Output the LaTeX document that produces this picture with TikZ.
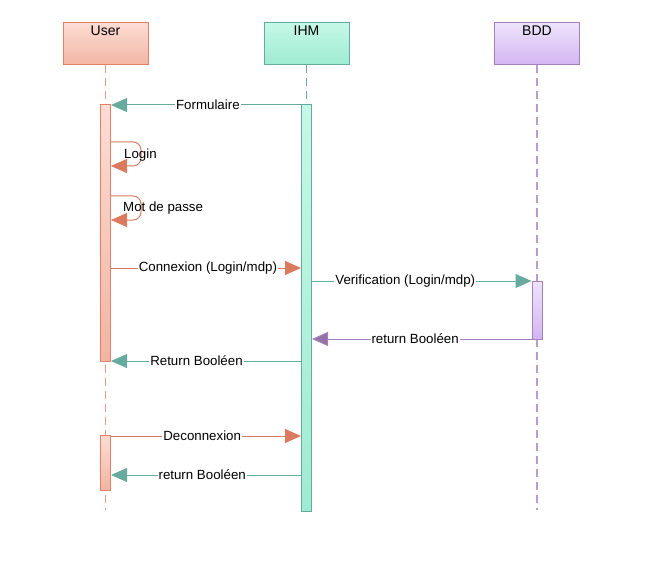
\documentclass[tikz,border=0pt]{standalone}
\usepackage{fontspec}
\setmainfont{Liberation Sans}
\usetikzlibrary{arrows.meta}
\definecolor{uB}{HTML}{E08066}
\definecolor{uT}{HTML}{FCDCD4}
\definecolor{uL}{HTML}{F2B5A3}
\definecolor{uA}{HTML}{DA7B5F}
\definecolor{uD}{HTML}{EA9A84}
\definecolor{iB}{HTML}{67AB9F}
\definecolor{iT}{HTML}{C5F8E7}
\definecolor{iL}{HTML}{9EEBD2}
\definecolor{pB}{HTML}{A680B8}
\definecolor{pT}{HTML}{EEE3FB}
\definecolor{pL}{HTML}{D3B5F2}
\definecolor{pA}{HTML}{9673A6}
\definecolor{pD}{HTML}{BC9AD8}
\tikzset{
  hdr/.style={draw, line width=1pt, minimum width=85pt, minimum height=42pt, inner sep=0pt},
  act/.style={draw, line width=1pt, minimum width=10pt, inner sep=0pt},
  life/.style={dash pattern=on 8pt off 5pt, line width=1.2pt},
  msg/.style={line width=1pt, -{Triangle[length=16pt,width=14pt]}},
  lbl/.style={fill=white, inner sep=1pt, font=\fontsize{13.3pt}{15pt}\selectfont, text=black},
  htxt/.style={anchor=north, inner sep=0pt, font=\fontsize{14pt}{16pt}\selectfont}
}
\begin{document}
\begin{tikzpicture}[x=1pt,y=-1pt]
\useasboundingbox[fill=white] (0,0) rectangle (659,575);
% headers
\node[hdr, draw=uB, top color=uT, bottom color=uL] (user) at (105.5,44) {};
\node[hdr, draw=iB, top color=iT, bottom color=iL] (ihm) at (306.5,44) {};
\node[hdr, draw=pB, top color=pT, bottom color=pL] (bdd) at (537,44) {};
\node[htxt] at ([yshift=-3pt]user.north) {User};
\node[htxt] at ([yshift=-3pt]ihm.north) {IHM};
\node[htxt] at ([yshift=-3pt]bdd.north) {BDD};
% lifelines
\coordinate (uend) at (105.5,510);
\coordinate (iend) at (306.5,510);
\coordinate (bend) at (537,510);
\draw[life, draw=uD] (user.south) -- (user.south |- uend);
\draw[life, draw=iB] (ihm.south) -- (ihm.south |- iend);
\draw[life, draw=pD] (bdd.south) -- (bdd.south |- bend);
% activations
\node[act, draw=uB, top color=uT, bottom color=uL, minimum height=256pt] (ua1) at (105.5,233) {};
\node[act, draw=uB, top color=uT, bottom color=uL, minimum height=55pt] (ua2) at (105.5,462.5) {};
\node[act, draw=iB, top color=iT, bottom color=iL, minimum height=406pt] (ia) at (306.5,308) {};
\node[act, draw=pB, top color=pT, bottom color=pL, minimum height=58pt] (ba) at (537,310) {};
% y levels
\coordinate (y105) at (0,105);
\coordinate (y142) at (0,142);
\coordinate (y166) at (0,166);
\coordinate (y196) at (0,196);
\coordinate (y220) at (0,220);
\coordinate (y268) at (0,268);
\coordinate (y281) at (0,281);
\coordinate (y339) at (0,339);
\coordinate (y361) at (0,361);
\coordinate (y436) at (0,436);
\coordinate (y475) at (0,475);
% messages
\draw[msg, draw=iB, -{Triangle[length=16pt,width=14pt,fill=iB]}] (ia.west |- y105) -- node[lbl, pos=0.49] {Formulaire} (ua1.east |- y105);
\draw[msg, draw=uA, rounded corners=8pt, -{Triangle[length=16pt,width=14pt,fill=uA]}] (ua1.east |- y142) -- ++(30,0) -- ++(0,24) -- (ua1.east |- y166);
\node[lbl, fill=none, anchor=west] (login) at (123,155) {Login};
\draw[msg, draw=uA, rounded corners=8pt, -{Triangle[length=16pt,width=14pt,fill=uA]}] (ua1.east |- y196) -- ++(30,0) -- ++(0,24) -- (ua1.east |- y220);
\node[lbl, fill=none, anchor=west] (mdp) at (122,208) {Mot de passe};
\draw[msg, draw=uA, -{Triangle[length=16pt,width=14pt,fill=uA]}] (ua1.east |- y268) -- node[lbl, pos=0.51] {Connexion (Login/mdp)} (ia.west |- y268);
\draw[msg, draw=iB, -{Triangle[length=16pt,width=14pt,fill=iB]}] (ia.east |- y281) -- node[lbl, pos=0.425] {Verification (Login/mdp)} (ba.west |- y281);
\draw[msg, draw=pB, -{Triangle[length=16pt,width=14pt,fill=pA]}] (ba.west |- y339) -- node[lbl, pos=0.53] {return Booléen} (ia.east |- y339);
\draw[msg, draw=iB, -{Triangle[length=16pt,width=14pt,fill=iB]}] (ia.west |- y361) -- node[lbl, pos=0.55] {Return Booléen} (ua1.east |- y361);
\draw[msg, draw=uA, -{Triangle[length=16pt,width=14pt,fill=uA]}] (ua2.east |- y436) -- node[lbl, pos=0.48] {Deconnexion} (ia.west |- y436);
\draw[msg, draw=iB, -{Triangle[length=16pt,width=14pt,fill=iB]}] (ia.west |- y475) -- node[lbl, pos=0.52] {return Booléen} (ua2.east |- y475);
\end{tikzpicture}
\end{document}
